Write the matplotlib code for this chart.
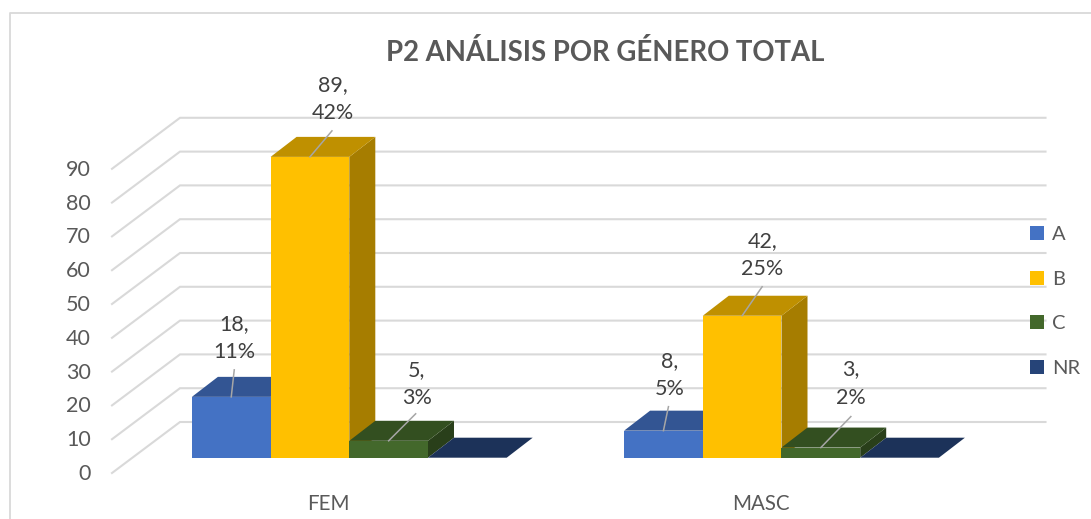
import matplotlib
matplotlib.use("Agg")
import numpy as np
import matplotlib.pyplot as plt
from matplotlib.patches import Polygon, Rectangle

plt.rcParams['font.family'] = ['Lato', 'DejaVu Sans']

categories = ["FEM", "MASC"]
series_names = ["A", "B", "C", "NR"]
values_a = [18, 8]
values_b = [89, 42]
values_c = [5, 3]
values_nr = [0, 0]
percent_a = ["11%", "5%"]
percent_b = ["42%", "25%"]
percent_c = ["3%", "2%"]
y_ticks = [0, 10, 20, 30, 40, 50, 60, 70, 80, 90]

W, H = 1091, 519
PX_X = 432.2        # pixels between the two groups
PX_Y = 3.38         # pixels per unit of value
X0_PX = 349.3       # pixel of FEM group centre
Y0_PX = 457.7       # pixel of value 0 at the bars base

fig = plt.figure(figsize=(W / 100, H / 100), dpi=100)
ax = fig.add_axes([0, 0, 1, 1])
ax.set_xlim(-X0_PX / PX_X, (W - X0_PX) / PX_X)
ax.set_ylim((Y0_PX - H) / PX_Y, Y0_PX / PX_Y)
ax.axis("off")

# sizes in data units
bar_w = 78.7 / PX_X
depth_x = 26 / PX_X
depth_y = 20 / PX_Y
# the floor and the back wall
floor_front = -15.3 / PX_Y
floor_dx = 68 / PX_X
floor_dy = 51 / PX_Y
wall_left = (112 - X0_PX) / PX_X
wall_right = (1045.5 - X0_PX) / PX_X

GRID = "#d9d9d9"
for t in y_ticks:
    y = floor_front + t
    ax.plot([wall_left, wall_left + floor_dx, wall_right],
            [y, y + floor_dy, y + floor_dy], color=GRID, lw=1.5,
            solid_joinstyle="miter", zorder=1)
    ax.text(wall_left - 21 / PX_X, y - 1 / PX_Y, str(t), ha="right", va="center",
            fontsize=15.5, color="#595959")

# front, top, side
colors = [("#4472c4", "#335593", "#2a4a80"),
          ("#ffc000", "#bf9000", "#a67d00"),
          ("#43682b", "#334f20", "#293f1a"),
          ("#264478", "#1c3259", "#182b4d")]
all_values = [values_a, values_b, values_c, values_nr]

z = 3
for g in range(len(categories)):
    for s, vals in enumerate(all_values):
        v = vals[g]
        x = g + (s - 2) * bar_w
        front, top, side = colors[s]
        ax.add_patch(Polygon([(x + bar_w, 0), (x + bar_w + depth_x, depth_y),
                              (x + bar_w + depth_x, v + depth_y), (x + bar_w, v)],
                             closed=True, fc=side, ec="none", zorder=z))
        ax.add_patch(Polygon([(x, v), (x + depth_x, v + depth_y),
                              (x + bar_w + depth_x, v + depth_y), (x + bar_w, v)],
                             closed=True, fc=top, ec="none", zorder=z))
        ax.bar(x, v, width=bar_w, align="edge", color=front, zorder=z)
        z += 1

# where the data labels sit, offset from the middle of each bar top (px)
label_offsets = {
    (0, 0): (3, 59), (0, 1): (23, 58), (0, 2): (28, 57),
    (1, 0): (6, 56), (1, 1): (20, 61), (1, 2): (30, 64),
}
leader_offsets = {
    (0, 0): (3, 27), (0, 1): (22, 26), (0, 2): (27, 27),
    (1, 0): (5, 24), (1, 1): (20, 29), (1, 2): (30, 31),
}
all_percents = [percent_a, percent_b, percent_c]
for g in range(len(categories)):
    for s in range(3):
        v = all_values[s][g]
        cx = g + (s - 2) * bar_w + bar_w / 2
        lx, ly = leader_offsets[(g, s)]
        ax.plot([cx, cx + lx / PX_X], [v, v + ly / PX_Y], color="#a6a6a6", lw=1.1, zorder=20)
        tx, ty = label_offsets[(g, s)]
        ax.text(cx + tx / PX_X, v + ty / PX_Y, f"{v},\n{all_percents[s][g]}",
                ha="center", va="center", fontsize=15.5, color="#404040",
                linespacing=1.5, zorder=21)

for g, name in enumerate(categories):
    ax.text(g - 20.5 / PX_X, (Y0_PX - 504) / PX_Y, name, ha="center", va="center",
            fontsize=14.8, color="#595959")

ax.text((605.5 - X0_PX) / PX_X, (Y0_PX - 53) / PX_Y, "P2 ANÁLISIS POR GÉNERO TOTAL",
        ha="center", va="center", fontsize=19.8, fontweight="bold", color="#595959")

handles = [Rectangle((0, 0), 1, 1, fc=c[0], ec="none") for c in colors]
ax.legend(handles, series_names, loc="upper left",
          bbox_to_anchor=(1024 / W, 1 - 220 / H), bbox_transform=fig.transFigure,
          frameon=False, fontsize=14.5, handlelength=0.7, handleheight=0.7,
          handletextpad=0.38, labelspacing=1.36, labelcolor="#595959",
          borderpad=0.3, borderaxespad=0)

# chart frame, only top and left are visible in the crop
fig.add_artist(plt.Line2D([9.5 / W, 9.5 / W, 1], [0, 1 - 12.5 / H, 1 - 12.5 / H],
                          color=GRID, lw=1.3))

fig.savefig("out.png", dpi=100)
